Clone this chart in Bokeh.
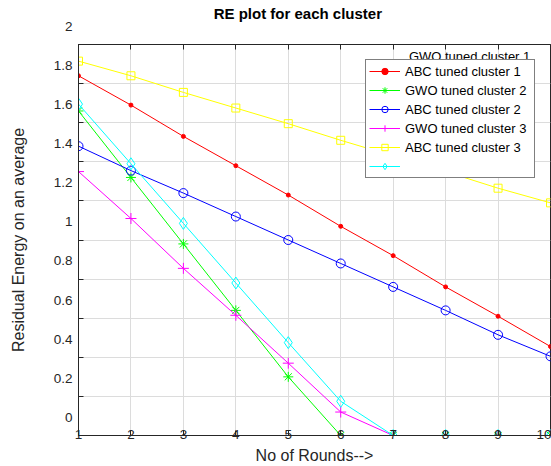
from bokeh.plotting import figure
from bokeh.models import (ColumnDataSource, Label, Legend, LegendItem,
                          Range1d, FixedTicker, LinearAxis)
from bokeh.embed import file_html
from bokeh.resources import INLINE

# ---------------- data ----------------
rounds = [1, 2, 3, 4, 5, 6, 7, 8, 9, 10]
abc_cluster1 = [1.84, 1.69, 1.53, 1.38, 1.23, 1.07, 0.92, 0.76, 0.61, 0.455]
gwo_cluster2 = [1.66, 1.32, 0.98, 0.64, 0.30, 0.0, 0.0, 0.0, 0.0, 0.0]
abc_cluster2 = [1.48, 1.355, 1.24, 1.12, 1.0, 0.88, 0.76, 0.64, 0.515, 0.405]
gwo_cluster3 = [1.35, 1.11, 0.855, 0.615, 0.37, 0.12, 0.0, 0.0, 0.0, 0.0]
abc_cluster3 = [1.915, 1.84, 1.755, 1.675, 1.595, 1.51, 1.43, 1.35, 1.265, 1.19]
unnamed_series = [1.695, 1.39, 1.085, 0.78, 0.475, 0.175, 0.0, 0.0, 0.0, 0.0]

x_ticks = [1, 2, 3, 4, 5, 6, 7, 8, 9, 10]
x_tick_labels = ["1", "2", "3", "4", "5", "6", "7", "8", "9", "10"]
y_ticks = [0, 0.2, 0.4, 0.6, 0.8, 1.0, 1.2, 1.4, 1.6, 1.8, 2.0]
y_tick_labels = ["0", "0.2", "0.4", "0.6", "0.8", "1", "1.2", "1.4", "1.6", "1.8", "2"]

legend_labels = ["ABC tuned cluster 1", "GWO tuned cluster 2", "ABC tuned cluster 2",
                 "GWO tuned cluster 3", "ABC tuned cluster 3", " "]
stray_legend_text = "GWO tuned cluster 1"

title_text = "RE plot for each cluster"
x_title = "No of Rounds-->"
y_title = "Residual Energy on an average"

FONT = "Liberation Sans"
AX = "#262626"

p = figure(width=551, height=466, x_range=Range1d(1, 10), y_range=Range1d(0, 2),
           output_backend="svg", toolbar_location=None, title_location=None,
           min_border_left=78, min_border_right=1, min_border_top=44, min_border_bottom=28,
           background_fill_color="white", border_fill_color="white")
p.outline_line_color = AX
p.outline_line_width = 1

for ax in (p.xaxis, p.yaxis):
    ax.major_tick_in = 5
    ax.major_tick_out = 0
    ax.minor_tick_line_color = None
    ax.axis_line_color = AX
    ax.major_tick_line_color = AX
    ax.major_label_text_font = FONT
    ax.major_label_text_font_size = "13.5px"
    ax.major_label_text_color = AX
    ax.axis_label_text_font = FONT
    ax.axis_label_text_font_size = "16px"
    ax.axis_label_text_font_style = "normal"
    ax.axis_label_text_color = AX

p.xaxis.ticker = FixedTicker(ticks=x_ticks)
p.xaxis.major_label_overrides = {t: s for t, s in zip(x_ticks, x_tick_labels)}
p.xaxis.major_label_standoff = -6
p.xaxis.axis_label = x_title
p.xaxis.axis_label_standoff = 5

p.yaxis.ticker = FixedTicker(ticks=y_ticks)
# labels sit about a half-step above their ticks, as in the reference
p.yaxis.major_label_overrides = {t: s + "\n" for t, s in zip(y_ticks, y_tick_labels)}
p.yaxis.major_label_text_line_height = 2.42
p.yaxis.major_label_standoff = 6
p.yaxis.axis_label = y_title
p.yaxis.axis_label_standoff = 24

p.xgrid.grid_line_color = "#dcdcdc"
p.ygrid.grid_line_color = "#dcdcdc"

# top axis: inward ticks; its axis label carries the chart title
top_ax = LinearAxis(ticker=FixedTicker(ticks=x_ticks),
                    major_label_overrides={t: "" for t in x_ticks},
                    major_label_standoff=0, major_tick_in=5, major_tick_out=0,
                    minor_tick_line_color=None, axis_line_color=AX, major_tick_line_color=AX,
                    axis_label=title_text + "\u00a0" * 8, axis_label_standoff=23,
                    axis_label_text_font=FONT, axis_label_text_font_size="15px",
                    axis_label_text_font_style="bold", axis_label_text_color="black")
p.add_layout(top_ax, "above")

series = [
    (abc_cluster1, "#ff0000", "circle", 4, "#ff0000"),
    (gwo_cluster2, "#00ff00", "asterisk", 10, None),
    (abc_cluster2, "#0000ff", "circle", 9, None),
    (gwo_cluster3, "#ff00ff", "cross", 11, None),
    (abc_cluster3, "#ffff00", "square", 8, None),
    (unnamed_series, "#00ffff", "diamond", 12, None),
]
items = []
for (vals, col, mk, sz, fill), lab in zip(series, legend_labels):
    src = ColumnDataSource(dict(x=rounds, y=vals))
    ln = p.line("x", "y", source=src, line_color=col, line_width=1)
    sc = p.scatter("x", "y", source=src, marker=mk, size=sz, line_color=col,
                   fill_color=fill, line_width=1)
    items.append(LegendItem(label=lab, renderers=[ln, sc]))

legend = Legend(items=items, location="top_right", margin=15, padding=3, spacing=3,
                label_height=16, glyph_height=16, glyph_width=31, label_standoff=5,
                label_width=126,
                label_text_font=FONT, label_text_font_size="13px", label_text_color="black",
                border_line_color="black", border_line_width=1,
                background_fill_color="white", background_fill_alpha=1)
p.add_layout(legend)

p.add_layout(Label(x=7.30, y=2, y_offset=-12, text=stray_legend_text, text_align="left",
                   text_baseline="middle", text_font=FONT, text_font_size="13px",
                   text_color="black"))

open("out.html", "w").write(file_html(p, INLINE))
